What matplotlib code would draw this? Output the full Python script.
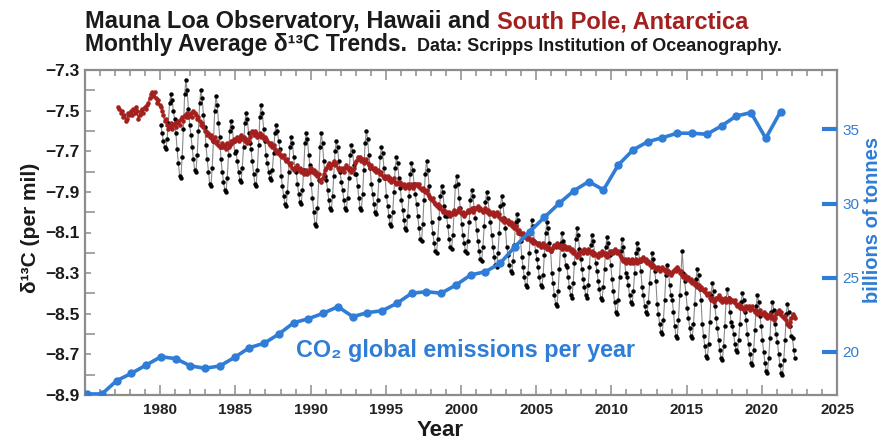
import numpy as np
import matplotlib
matplotlib.use("Agg")
import matplotlib.pyplot as plt
from matplotlib.ticker import FixedLocator

NARROW = ['Liberation Sans Narrow', 'Liberation Sans', 'DejaVu Sans']
SANS = ['Liberation Sans', 'DejaVu Sans']
plt.rcParams['font.family'] = SANS

# ---------------- data ----------------
# Mauna Loa monthly d13C, starting January 1980
ml_start_year, ml_start_month = 1980, 1
mauna_loa = [
    -7.57, -7.61, -7.65, -7.68, -7.69, -7.64, -7.56, -7.46, -7.42, -7.45, -7.50, -7.54,  # 1980
    -7.61, -7.69, -7.76, -7.82, -7.83, -7.73, -7.59, -7.42, -7.35, -7.40, -7.49, -7.57,  # 1981
    -7.62, -7.68, -7.74, -7.79, -7.80, -7.72, -7.60, -7.46, -7.40, -7.44, -7.52, -7.58,  # 1982
    -7.67, -7.74, -7.80, -7.86, -7.87, -7.78, -7.65, -7.50, -7.43, -7.47, -7.56, -7.63,  # 1983
    -7.74, -7.80, -7.85, -7.89, -7.90, -7.83, -7.72, -7.60, -7.55, -7.58, -7.65, -7.71,  # 1984
    -7.70, -7.75, -7.80, -7.84, -7.85, -7.78, -7.68, -7.56, -7.51, -7.54, -7.61, -7.66,  # 1985
    -7.69, -7.75, -7.81, -7.86, -7.87, -7.79, -7.67, -7.53, -7.47, -7.51, -7.59, -7.65,  # 1986
    -7.72, -7.76, -7.80, -7.83, -7.84, -7.79, -7.71, -7.61, -7.57, -7.60, -7.65, -7.69,  # 1987
    -7.82, -7.87, -7.92, -7.96, -7.97, -7.90, -7.80, -7.68, -7.63, -7.66, -7.73, -7.78,  # 1988
    -7.80, -7.86, -7.91, -7.95, -7.96, -7.89, -7.79, -7.66, -7.61, -7.64, -7.72, -7.77,  # 1989
    -7.86, -7.93, -8.00, -8.06, -8.07, -7.98, -7.84, -7.68, -7.61, -7.66, -7.75, -7.82,  # 1990
    -7.84, -7.89, -7.94, -7.98, -7.99, -7.92, -7.82, -7.70, -7.65, -7.68, -7.75, -7.80,  # 1991
    -7.85, -7.89, -7.94, -7.98, -7.99, -7.93, -7.83, -7.72, -7.67, -7.70, -7.77, -7.81,  # 1992
    -7.81, -7.87, -7.93, -7.98, -7.99, -7.91, -7.79, -7.66, -7.60, -7.64, -7.72, -7.78,  # 1993
    -7.86, -7.91, -7.96, -8.00, -8.01, -7.94, -7.84, -7.73, -7.68, -7.71, -7.78, -7.83,  # 1994
    -7.92, -7.97, -8.02, -8.06, -8.07, -8.00, -7.90, -7.78, -7.73, -7.76, -7.83, -7.88,  # 1995
    -7.94, -7.99, -8.04, -8.08, -8.09, -8.02, -7.92, -7.81, -7.76, -7.79, -7.86, -7.91,  # 1996
    -7.96, -8.02, -8.08, -8.13, -8.14, -8.06, -7.94, -7.81, -7.75, -7.79, -7.87, -7.93,  # 1997
    -8.05, -8.10, -8.15, -8.19, -8.20, -8.13, -8.03, -7.92, -7.87, -7.90, -7.97, -8.02,  # 1998
    -8.02, -8.07, -8.13, -8.17, -8.18, -8.11, -8.00, -7.87, -7.82, -7.86, -7.93, -7.98,  # 1999
    -8.06, -8.11, -8.15, -8.19, -8.20, -8.14, -8.05, -7.94, -7.89, -7.92, -7.98, -8.03,  # 2000
    -8.09, -8.14, -8.19, -8.23, -8.24, -8.17, -8.07, -7.95, -7.90, -7.93, -8.00, -8.05,  # 2001
    -8.11, -8.17, -8.22, -8.26, -8.27, -8.20, -8.10, -7.97, -7.92, -7.96, -8.03, -8.08,  # 2002
    -8.17, -8.21, -8.26, -8.29, -8.30, -8.24, -8.16, -8.05, -8.01, -8.04, -8.10, -8.14,  # 2003
    -8.22, -8.27, -8.32, -8.36, -8.37, -8.30, -8.20, -8.09, -8.04, -8.07, -8.14, -8.19,  # 2004
    -8.23, -8.27, -8.32, -8.36, -8.37, -8.31, -8.21, -8.10, -8.05, -8.08, -8.15, -8.19,  # 2005
    -8.30, -8.35, -8.41, -8.45, -8.46, -8.39, -8.28, -8.15, -8.10, -8.14, -8.21, -8.26,  # 2006
    -8.27, -8.32, -8.37, -8.41, -8.42, -8.35, -8.25, -8.13, -8.08, -8.11, -8.18, -8.23,  # 2007
    -8.28, -8.33, -8.37, -8.41, -8.42, -8.36, -8.27, -8.16, -8.11, -8.14, -8.20, -8.25,  # 2008
    -8.29, -8.34, -8.38, -8.42, -8.43, -8.37, -8.28, -8.17, -8.12, -8.15, -8.21, -8.26,  # 2009
    -8.33, -8.39, -8.44, -8.49, -8.50, -8.43, -8.32, -8.19, -8.13, -8.17, -8.24, -8.30,  # 2010
    -8.32, -8.36, -8.41, -8.44, -8.45, -8.39, -8.30, -8.20, -8.15, -8.18, -8.24, -8.29,  # 2011
    -8.37, -8.41, -8.46, -8.49, -8.50, -8.44, -8.35, -8.25, -8.20, -8.23, -8.29, -8.34,  # 2012
    -8.45, -8.50, -8.55, -8.59, -8.60, -8.53, -8.43, -8.31, -8.26, -8.29, -8.36, -8.41,  # 2013
    -8.43, -8.49, -8.56, -8.61, -8.62, -8.53, -8.41, -8.30, -8.19, -8.30, -8.34, -8.40,  # 2014
    -8.47, -8.52, -8.57, -8.61, -8.62, -8.55, -8.45, -8.33, -8.28, -8.31, -8.38, -8.43,  # 2015
    -8.55, -8.61, -8.66, -8.71, -8.72, -8.65, -8.54, -8.41, -8.35, -8.39, -8.46, -8.52,  # 2016
    -8.57, -8.63, -8.68, -8.72, -8.73, -8.66, -8.56, -8.43, -8.38, -8.42, -8.49, -8.54,  # 2017
    -8.56, -8.60, -8.65, -8.68, -8.69, -8.63, -8.55, -8.44, -8.40, -8.43, -8.49, -8.53,  # 2018
    -8.60, -8.65, -8.70, -8.74, -8.75, -8.68, -8.58, -8.46, -8.41, -8.44, -8.51, -8.56,  # 2019
    -8.63, -8.69, -8.74, -8.78, -8.79, -8.72, -8.62, -8.49, -8.44, -8.48, -8.55, -8.60,  # 2020
    -8.64, -8.70, -8.75, -8.79, -8.80, -8.73, -8.63, -8.50, -8.45, -8.49, -8.56, -8.61,  # 2021
    -8.62, -8.68, -8.72,                                                                  # 2022
]

# South Pole monthly d13C, starting March 1977
sp_start_year, sp_start_month = 1977, 3
south_pole = [
    -7.48, -7.49, -7.51, -7.50, -7.53, -7.52, -7.55, -7.54, -7.51, -7.52,                # 1977
    -7.50, -7.52, -7.49, -7.51, -7.48, -7.50, -7.54, -7.52, -7.50, -7.49, -7.51, -7.48,  # 1978
    -7.49, -7.47, -7.46, -7.44, -7.42, -7.41, -7.43, -7.41, -7.44, -7.46, -7.45, -7.47,  # 1979
    -7.48, -7.50, -7.52, -7.55, -7.54, -7.57, -7.59, -7.58, -7.56, -7.59, -7.57, -7.56,  # 1980
    -7.58, -7.56, -7.55, -7.57, -7.54, -7.53, -7.55, -7.52, -7.53, -7.51, -7.53, -7.52,  # 1981
    -7.51, -7.53, -7.50, -7.51, -7.52, -7.54, -7.53, -7.55, -7.57, -7.56, -7.58, -7.60,  # 1982
    -7.60, -7.62, -7.61, -7.63, -7.62, -7.64, -7.65, -7.63, -7.66, -7.65, -7.67, -7.68,  # 1983
    -7.68, -7.66, -7.68, -7.67, -7.69, -7.66, -7.68, -7.67, -7.65, -7.66, -7.64, -7.65,  # 1984
    -7.64, -7.63, -7.65, -7.63, -7.62, -7.64, -7.63, -7.65, -7.64, -7.66, -7.65, -7.63,  # 1985
    -7.61, -7.60, -7.62, -7.60, -7.61, -7.63, -7.62, -7.61, -7.63, -7.62, -7.64, -7.63,  # 1986
    -7.64, -7.65, -7.66, -7.67, -7.66, -7.68, -7.67, -7.69, -7.70, -7.71, -7.70, -7.72,  # 1987
    -7.72, -7.73, -7.72, -7.74, -7.75, -7.74, -7.76, -7.77, -7.76, -7.78, -7.79, -7.78,  # 1988
    -7.78, -7.77, -7.79, -7.78, -7.80, -7.79, -7.81, -7.80, -7.79, -7.81, -7.80, -7.78,  # 1989
    -7.78, -7.80, -7.79, -7.81, -7.80, -7.82, -7.81, -7.84, -7.85, -7.83, -7.81, -7.79,  # 1990
    -7.78, -7.77, -7.76, -7.78, -7.77, -7.76, -7.75, -7.77, -7.76, -7.78, -7.79, -7.78,  # 1991
    -7.79, -7.78, -7.80, -7.78, -7.77, -7.78, -7.79, -7.78, -7.80, -7.79, -7.78, -7.76,  # 1992
    -7.75, -7.73, -7.74, -7.73, -7.75, -7.74, -7.76, -7.75, -7.74, -7.76, -7.77, -7.78,  # 1993
    -7.77, -7.78, -7.79, -7.78, -7.80, -7.79, -7.80, -7.81, -7.80, -7.82, -7.83, -7.82,  # 1994
    -7.83, -7.82, -7.84, -7.83, -7.85, -7.84, -7.83, -7.85, -7.86, -7.85, -7.86, -7.85,  # 1995
    -7.86, -7.87, -7.86, -7.88, -7.87, -7.86, -7.88, -7.87, -7.86, -7.88, -7.87, -7.86,  # 1996
    -7.86, -7.87, -7.86, -7.88, -7.89, -7.88, -7.89, -7.90, -7.89, -7.91, -7.92, -7.93,  # 1997
    -7.94, -7.93, -7.95, -7.96, -7.97, -7.96, -7.98, -7.97, -7.99, -8.00, -7.99, -8.00,  # 1998
    -8.00, -8.01, -8.00, -8.02, -8.01, -8.00, -7.99, -8.01, -8.00, -7.99, -7.98, -8.00,  # 1999
    -8.01, -8.00, -8.02, -8.01, -8.00, -7.99, -8.00, -7.99, -7.98, -8.00, -7.99, -7.98,  # 2000
    -7.98, -7.97, -7.99, -7.98, -7.99, -8.00, -7.99, -7.98, -8.00, -7.99, -8.01, -8.00,  # 2001
    -8.01, -8.00, -8.02, -8.01, -8.00, -8.02, -8.01, -8.03, -8.04, -8.03, -8.05, -8.04,  # 2002
    -8.05, -8.04, -8.06, -8.05, -8.07, -8.06, -8.08, -8.07, -8.09, -8.10, -8.09, -8.10,  # 2003
    -8.11, -8.10, -8.12, -8.11, -8.13, -8.12, -8.13, -8.14, -8.13, -8.15, -8.14, -8.15,  # 2004
    -8.15, -8.16, -8.15, -8.17, -8.16, -8.15, -8.17, -8.16, -8.18, -8.17, -8.18, -8.19,  # 2005
    -8.18, -8.17, -8.16, -8.17, -8.15, -8.16, -8.17, -8.16, -8.18, -8.17, -8.16, -8.18,  # 2006
    -8.17, -8.18, -8.17, -8.19, -8.18, -8.20, -8.19, -8.21, -8.22, -8.20, -8.21, -8.19,  # 2007
    -8.19, -8.20, -8.18, -8.19, -8.20, -8.18, -8.19, -8.20, -8.19, -8.21, -8.20, -8.21,  # 2008
    -8.21, -8.22, -8.20, -8.21, -8.19, -8.20, -8.21, -8.20, -8.22, -8.21, -8.19, -8.20,  # 2009
    -8.19, -8.20, -8.18, -8.19, -8.20, -8.19, -8.21, -8.22, -8.23, -8.24, -8.23, -8.25,  # 2010
    -8.24, -8.23, -8.25, -8.24, -8.23, -8.25, -8.24, -8.23, -8.25, -8.24, -8.23, -8.24,  # 2011
    -8.23, -8.22, -8.24, -8.23, -8.25, -8.24, -8.26, -8.25, -8.27, -8.26, -8.27, -8.28,  # 2012
    -8.28, -8.27, -8.29, -8.28, -8.27, -8.28, -8.29, -8.28, -8.30, -8.29, -8.30, -8.31,  # 2013
    -8.30, -8.29, -8.28, -8.29, -8.27, -8.28, -8.30, -8.29, -8.31, -8.32, -8.31, -8.33,  # 2014
    -8.33, -8.32, -8.34, -8.33, -8.35, -8.34, -8.36, -8.35, -8.37, -8.36, -8.38, -8.37,  # 2015
    -8.38, -8.39, -8.38, -8.40, -8.41, -8.40, -8.42, -8.43, -8.42, -8.44, -8.43, -8.42,  # 2016
    -8.42, -8.41, -8.43, -8.42, -8.44, -8.43, -8.42, -8.44, -8.43, -8.42, -8.44, -8.43,  # 2017
    -8.43, -8.44, -8.43, -8.45, -8.46, -8.45, -8.47, -8.46, -8.47, -8.48, -8.47, -8.46,  # 2018
    -8.47, -8.46, -8.48, -8.47, -8.46, -8.48, -8.49, -8.48, -8.50, -8.49, -8.48, -8.50,  # 2019
    -8.50, -8.49, -8.51, -8.50, -8.52, -8.51, -8.50, -8.52, -8.51, -8.53, -8.52, -8.50,  # 2020
    -8.49, -8.48, -8.50, -8.49, -8.51, -8.52, -8.51, -8.53, -8.55, -8.56, -8.54, -8.52,  # 2021
    -8.50, -8.51, -8.52,                                                                  # 2022
]

# Global CO2 emissions (billions of tonnes per year)
em_years = list(range(1974, 2022))
emissions = [
    17.17, 17.17, 18.07, 18.56, 19.12, 19.68, 19.55, 19.06, 18.90, 19.06,   # 1974-1983
    19.64, 20.29, 20.59, 21.21, 21.97, 22.24, 22.61, 23.05, 22.38, 22.65,   # 1984-1993
    22.78, 23.28, 23.96, 24.06, 23.96, 24.51, 25.19, 25.41, 25.98, 27.10,   # 1994-2003
    28.11, 29.08, 30.02, 30.87, 31.48, 30.92, 32.60, 33.61, 34.17, 34.44,   # 2004-2013
    34.74, 34.74, 34.67, 35.23, 35.90, 36.13, 34.40, 36.19,                 # 2014-2021
]

x_ticks = [1980, 1985, 1990, 1995, 2000, 2005, 2010, 2015, 2020, 2025]
y_ticks = [-7.3, -7.5, -7.7, -7.9, -8.1, -8.3, -8.5, -8.7, -8.9]
em_ticks = [20, 25, 30, 35]

# ---------------- styling ----------------
BLUE = '#2f7dd6'
DARKRED = '#a3201f'
SPINE = '#8c8c8c'

ml_x = ml_start_year + (ml_start_month - 1 + np.arange(len(mauna_loa)) + 0.5) / 12.0
sp_x = sp_start_year + (sp_start_month - 1 + np.arange(len(south_pole)) + 0.5) / 12.0

W, H = 882, 443
fig = plt.figure(figsize=(W / 100, H / 100), dpi=100)
rect = [85 / W, 1 - 395 / H, (837 - 85) / W, (395 - 70) / H]
ax = fig.add_axes(rect)
ax.set_xlim(1975, 2025)
ax.set_ylim(-8.9, -7.3)

ax.plot(ml_x, mauna_loa, '-', color='#8a8a8a', lw=0.8, zorder=2)
ax.plot(ml_x, mauna_loa, 'o', color='black', ms=3.2, mew=0, zorder=3)
ax.plot(sp_x, south_pole, '-', color=DARKRED, lw=0.9, zorder=4)
ax.plot(sp_x, south_pole, 'o', color=DARKRED, ms=3.3, mew=0, zorder=5)

ax.xaxis.set_major_locator(FixedLocator(x_ticks))
ax.xaxis.set_minor_locator(FixedLocator(list(range(1975, 2026))))
ax.yaxis.set_major_locator(FixedLocator(y_ticks))
ax.yaxis.set_minor_locator(FixedLocator([-7.4, -7.6, -7.8, -8.0, -8.2, -8.4, -8.6, -8.8]))
ax.set_xticklabels([str(t) for t in x_ticks])
ax.set_yticklabels([f"{t:.1f}".replace('-', '\u2212') for t in y_ticks])
ax.tick_params(axis='x', which='both', direction='in', top=True, bottom=True,
               color=SPINE, width=1.1, labelsize=11, pad=6)
ax.tick_params(axis='x', which='major', length=7)
ax.tick_params(axis='x', which='minor', length=4)
ax.tick_params(axis='y', which='both', direction='in', left=True, right=False,
               color=SPINE, width=1.1, labelsize=12.5, pad=4)
ax.tick_params(axis='y', which='major', length=4)
ax.tick_params(axis='y', which='minor', length=7)
for lab in ax.get_xticklabels():
    lab.set_family(NARROW)
    lab.set_fontweight('bold')
    lab.set_color('#222222')
for lab in ax.get_yticklabels():
    lab.set_fontweight('bold')
    lab.set_color('#1a1a1a')
for s in ax.spines.values():
    s.set_color(SPINE)
    s.set_linewidth(1.6)

ax.text(1989.0, -8.68, 'CO\u2082 global emissions per year', color=BLUE,
        fontsize=16.8, fontweight='bold', ha='left', va='center',
        family=['Liberation Sans', 'DejaVu Sans'], zorder=6)

# emissions overlay (pasted panel with its own year scale)
ax2 = fig.add_axes(rect, frameon=False)
ax2.set_xlim(1973.85, 2024.83)
ax2.set_ylim(17.1, 39.0)
ax2.plot(em_years, emissions, '-o', color=BLUE, lw=2.6, ms=5, zorder=5)
ax2.xaxis.set_visible(False)
ax2.yaxis.tick_right()
ax2.yaxis.set_major_locator(FixedLocator(em_ticks))
ax2.set_yticklabels([str(t) for t in em_ticks])
ax2.tick_params(axis='y', direction='in', length=11, width=3, colors=BLUE,
                labelsize=11, pad=4, left=False, right=True)
for lab in ax2.get_yticklabels():
    lab.set_family(NARROW)
    lab.set_color(BLUE)

# labels
fig.text(30 / W, 1 - 228 / H, '\u03b4\u00b9\u00b3C (per mil)', rotation=90,
         ha='center', va='center', fontsize=15, fontweight='bold', color='#1a1a1a')
fig.text(872 / W, 1 - 220 / H, 'billions of tonnes', rotation=90,
         ha='center', va='center', fontsize=14.5, fontweight='bold', color=BLUE)
fig.text(440 / W, 1 - 430 / H, 'Year', ha='center', va='center',
         fontsize=16, fontweight='bold', family=NARROW, color='#1a1a1a')

# title
t1 = fig.text(85 / W, 1 - 28 / H, 'Mauna Loa Observatory, Hawaii and ',
              ha='left', va='baseline', fontsize=17, fontweight='bold',
              family=NARROW, color='#1a1a1a')
fig.canvas.draw()
r = fig.canvas.get_renderer()
bb = t1.get_window_extent(r)
fig.text(bb.x1 / W, 1 - 28 / H, 'South Pole, Antarctica', ha='left', va='baseline',
         fontsize=17, fontweight='bold', family=NARROW, color=DARKRED)
t3 = fig.text(85 / W, 1 - 51 / H, 'Monthly Average \u03b4\u00b9\u00b3C Trends.',
              ha='left', va='baseline', fontsize=16.5, fontweight='bold',
              family=NARROW, color='#1a1a1a')
bb3 = t3.get_window_extent(r)
fig.text((bb3.x1 + 10) / W, 1 - 51 / H, 'Data: Scripps Institution of Oceanography.',
         ha='left', va='baseline', fontsize=13, fontweight='bold',
         family=NARROW, color='#1a1a1a')

fig.savefig('out.png', dpi=100)
